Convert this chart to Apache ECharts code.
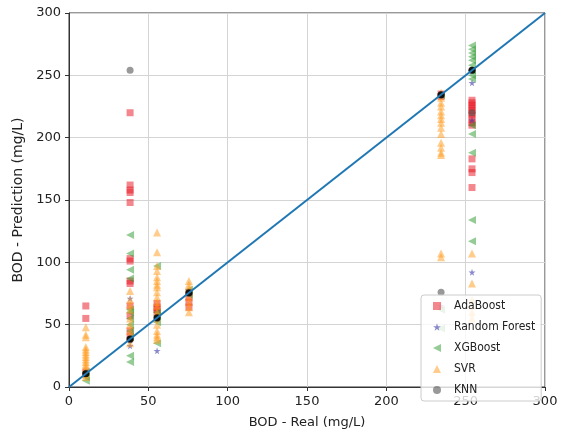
<!DOCTYPE html>
<html>
<head>
<meta charset="utf-8">
<script src="https://cdn.jsdelivr.net/npm/echarts@6/dist/echarts.min.js"></script>
<style>
  html, body { margin: 0; padding: 0; background: #fff; }
  #chart { width: 561px; height: 434px; }
</style>
</head>
<body>
<div id="chart"></div>
<script>
// Measured BOD values (mg/L) of the test samples
const realBOD = [10.6, 38.5, 55.5, 75.6, 234.5, 254];

// Predicted BOD for each measured value, one list per model
const adaBoost = [
  [65, 55, 12],
  [220, 162, 158, 156, 148, 103, 101, 85, 83, 65, 57, 45, 40],
  [67, 64, 62, 60],
  [76, 72, 68, 64],
  [235, 233],
  [230, 228, 226, 224, 222, 220, 218, 215, 212, 210, 183, 175, 172, 160]
];
const randomForest = [
  [11],
  [71, 38, 33],
  [55, 29],
  [75],
  [234, 65],
  [254, 244, 214, 92]
];
const xgBoost = [
  [12, 8, 5],
  [122, 107, 94, 87, 62, 60, 55, 50, 45, 40, 25, 20],
  [97, 60, 57, 52, 35],
  [78, 74],
  [234, 62, 47],
  [274, 271, 268, 265, 262, 258, 254, 250, 247, 210, 203, 188, 134, 117]
];
const svr = [
  [48, 42, 40, 32, 30, 28, 26, 24, 22, 20, 18, 16, 14, 12, 10, 8],
  [77, 70, 66, 62, 55, 50, 45, 40, 35],
  [124, 108, 97, 93, 88, 85, 82, 80, 76, 72, 68, 65, 60, 55, 50, 45, 42, 40, 38],
  [85, 82, 79, 76, 72, 68, 64, 60],
  [236, 232, 228, 225, 221, 218, 215, 212, 208, 203, 196, 192, 188, 186, 107, 104],
  [107, 83, 70, 65, 60, 55]
];
const knn = [
  [11],
  [254, 38],
  [55],
  [75],
  [234, 76],
  [254, 220]
];

const modelNames = ['AdaBoost', 'Random Forest', 'XGBoost', 'SVR', 'KNN'];
const axisTicks = [0, 50, 100, 150, 200, 250, 300];

function toPoints(groups) {
  const pts = [];
  groups.forEach((ys, i) => ys.forEach(y => pts.push([realBOD[i], y])));
  return pts;
}

const starPath = 'path://M50,0 L61,35 L98,35 L68,57 L79,91 L50,70 L21,91 L32,57 L2,35 L39,35 Z';
const leftTriPath = 'path://M0,50 L100,0 L100,100 Z';
const upTriPath = 'path://M50,0 L100,100 L0,100 Z';
const font = 'DejaVu Sans';

const styles = {
  'AdaBoost':      { symbol: 'rect',      legendIcon: 'rect',      size: 7, color: '#e8101c', opacity: 0.5 },
  'Random Forest': { symbol: starPath,    legendIcon: starPath,    size: 7, color: '#3a3aa8', opacity: 0.6 },
  'XGBoost':       { symbol: leftTriPath, legendIcon: leftTriPath, size: 8, color: '#2c9a2c', opacity: 0.5 },
  'SVR':           { symbol: upTriPath,   legendIcon: upTriPath,   size: 8, color: '#ff9a1a', opacity: 0.5 },
  'KNN':           { symbol: 'circle',    legendIcon: 'circle',    size: 7, color: '#555555', opacity: 0.6 }
};
const seriesData = {
  'AdaBoost': adaBoost,
  'Random Forest': randomForest,
  'XGBoost': xgBoost,
  'SVR': svr,
  'KNN': knn
};

const chart = echarts.init(document.getElementById('chart'), null, { renderer: 'canvas' });

const axisCommon = {
  type: 'value',
  min: axisTicks[0],
  max: axisTicks[axisTicks.length - 1],
  interval: 50,
  axisLine: { show: true, onZero: false, lineStyle: { color: '#333', width: 1 } },
  axisTick: { show: true, length: 4, inside: false, lineStyle: { color: '#333' } },
  axisLabel: { color: '#222', fontSize: 13, fontFamily: font, margin: 8 },
  splitLine: { show: true, lineStyle: { color: '#d4d4d4', width: 1 } },
  nameLocation: 'middle'
};

const modelSeries = modelNames.map(name => {
  const s = styles[name];
  return {
    name: name,
    type: 'scatter',
    data: toPoints(seriesData[name]),
    symbol: s.symbol,
    symbolSize: s.size,
    itemStyle: { color: s.color, opacity: s.opacity },
    emphasis: { disabled: true },
    z: 2
  };
});

chart.setOption({
  animation: false,
  backgroundColor: '#fff',
  grid: {
    left: 69, right: 16, top: 13, bottom: 46,
    show: true, borderColor: '#333', borderWidth: 1, backgroundColor: 'transparent'
  },
  xAxis: Object.assign({}, axisCommon, {
    name: 'BOD - Real (mg/L)', nameGap: 29,
    nameTextStyle: { color: '#222', fontSize: 13, fontFamily: font }
  }),
  yAxis: Object.assign({}, axisCommon, {
    name: 'BOD - Prediction (mg/L)', nameGap: 40,
    nameTextStyle: { color: '#222', fontSize: 14, fontFamily: font }
  }),
  legend: {
    data: modelNames.map(name => ({
      name: name,
      icon: styles[name].legendIcon,
      itemStyle: { color: styles[name].color, opacity: styles[name].opacity }
    })),
    orient: 'vertical',
    left: 421,
    top: 295,
    padding: [5, 6, 5, 12],
    itemWidth: 8,
    itemHeight: 8,
    itemGap: 9,
    backgroundColor: 'rgba(255,255,255,0.8)',
    borderColor: '#cccccc',
    borderWidth: 1,
    borderRadius: 3,
    textStyle: { color: '#222', fontSize: 12, fontFamily: 'DejaVu Sans Condensed', padding: [0, 0, 0, 8] },
    selectedMode: false
  },
  series: modelSeries.concat([
    {
      name: 'Measured',
      type: 'scatter',
      data: realBOD.map(v => [v, v]),
      symbol: 'circle',
      symbolSize: 7,
      itemStyle: { color: '#000', opacity: 0.85 },
      emphasis: { disabled: true },
      z: 3
    },
    {
      name: 'Ideal',
      type: 'line',
      data: [[axisTicks[0], axisTicks[0]], [axisTicks[6], axisTicks[6]]],
      showSymbol: false,
      symbol: 'none',
      lineStyle: { color: '#1f77b4', width: 2 },
      emphasis: { disabled: true },
      z: 4
    }
  ])
});
</script>
</body>
</html>
